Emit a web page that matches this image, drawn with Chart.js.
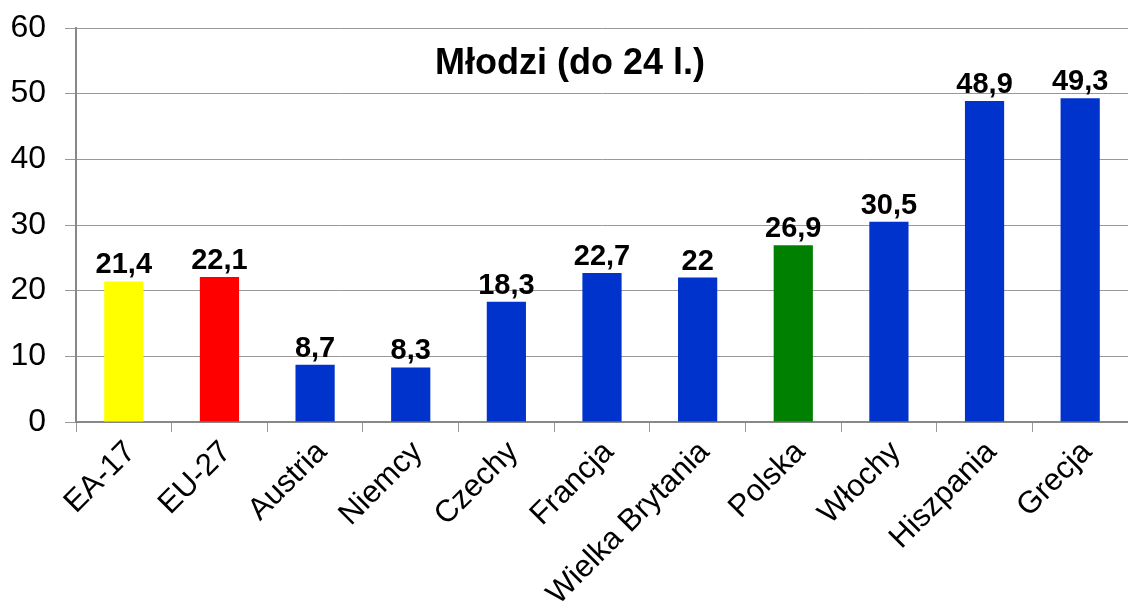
<!DOCTYPE html>
<html>
<head>
<meta charset="utf-8">
<script src="https://cdn.jsdelivr.net/npm/chart.js@4.4.1/dist/chart.umd.min.js"></script>
<style>
  html, body { margin: 0; padding: 0; background: #fff; }
  #wrap { width: 1128px; height: 612px; }
</style>
</head>
<body>
<div id="wrap"><canvas id="chart"></canvas></div>
<script>
const categories = ['EA-17', 'EU-27', 'Austria', 'Niemcy', 'Czechy', 'Francja', 'Wielka Brytania', 'Polska', 'Włochy', 'Hiszpania', 'Grecja'];
const values = [21.4, 22.1, 8.7, 8.3, 18.3, 22.7, 22, 26.9, 30.5, 48.9, 49.3];
const barColors = ['#ffff00', '#ff0000', '#0033cc', '#0033cc', '#0033cc', '#0033cc', '#0033cc', '#008000', '#0033cc', '#0033cc', '#0033cc'];
const titleText = 'Młodzi (do 24 l.)';

const FONT = '"Liberation Sans", Arial, sans-serif';

// value labels above each bar, decimal comma
const valueLabels = {
    id: 'valueLabels',
    afterDatasetsDraw(chart) {
        const ctx = chart.ctx;
        const meta = chart.getDatasetMeta(0);
        ctx.save();
        ctx.font = 'bold 29px ' + FONT;
        ctx.fillStyle = '#000';
        ctx.textAlign = 'center';
        ctx.textBaseline = 'alphabetic';
        meta.data.forEach((bar, i) => {
            const txt = String(values[i]).replace('.', ',');
            ctx.fillText(txt, bar.x, bar.y - 8);
        });
        ctx.restore();
    }
};

// title drawn inside the plot area
const innerTitle = {
    id: 'innerTitle',
    afterDraw(chart) {
        const ctx = chart.ctx;
        ctx.save();
        ctx.font = 'bold 36px ' + FONT;
        ctx.fillStyle = '#000';
        ctx.textAlign = 'center';
        ctx.textBaseline = 'middle';
        ctx.fillText(titleText, chart.width / 2 + 6, chart.chartArea.top + 36);
        ctx.restore();
    }
};

new Chart(document.getElementById('chart'), {
    type: 'bar',
    data: {
        labels: categories,
        datasets: [{
            data: values,
            backgroundColor: barColors,
            borderWidth: 0,
            barPercentage: 0.41,
            categoryPercentage: 1
        }]
    },
    options: {
        responsive: true,
        maintainAspectRatio: false,
        animation: false,
        layout: { padding: { top: 28, right: 0, left: 0, bottom: 0 } },
        plugins: {
            legend: { display: false },
            tooltip: { enabled: false }
        },
        scales: {
            x: {
                grid: {
                    drawOnChartArea: false,
                    offset: true,
                    tickLength: 10,
                    color: '#999'
                },
                border: { display: true, color: '#888', width: 2 },
                ticks: {
                    color: '#000',
                    font: { family: FONT, size: 31 },
                    minRotation: 45,
                    maxRotation: 45,
                    padding: 2,
                    labelOffset: 7,
                    autoSkip: false
                },
                afterFit(scale) {
                    scale.height = 190;
                    scale.paddingLeft = 0;
                    scale.paddingRight = 0;
                }
            },
            y: {
                min: 0,
                max: 60,
                ticks: {
                    stepSize: 10,
                    color: '#000',
                    font: { family: FONT, size: 32 },
                    padding: 19
                },
                grid: {
                    color: '#999',
                    lineWidth: 1,
                    tickLength: 11
                },
                border: { display: true, color: '#888', width: 2 },
                afterFit(scale) {
                    scale.width = 76;
                    scale.paddingTop = 0;
                    scale.paddingBottom = 0;
                }
            }
        }
    },
    plugins: [valueLabels, innerTitle]
});
</script>
</body>
</html>
